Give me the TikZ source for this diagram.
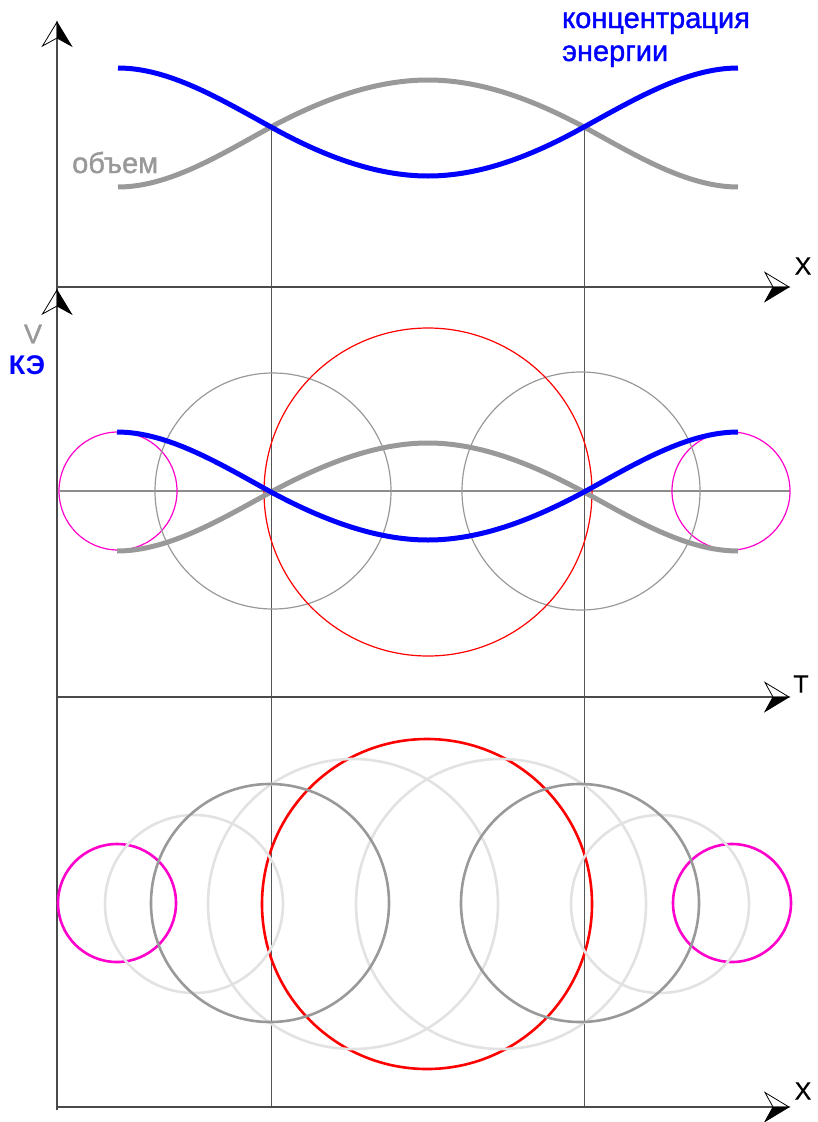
\documentclass[tikz,border=0pt]{standalone}
\usepackage{fontspec}
\setmainfont{Liberation Sans}
\newfontfamily\heavyfont[FakeBold=1.3]{Liberation Sans}
\newfontfamily\midfont[FakeBold=0.6]{Liberation Sans}
\definecolor{axisgray}{HTML}{4A4A4A}
\definecolor{guidegray}{HTML}{555555}
\definecolor{midgray}{HTML}{8C8C8C}
\definecolor{curvegray}{HTML}{999999}
\definecolor{lightring}{HTML}{E2E2E2}
\definecolor{curveblue}{HTML}{0000FF}
\definecolor{ringred}{HTML}{FF0000}
\definecolor{ringmag}{HTML}{FF00CC}
\tikzset{
  halfarrow/.pic={
    \filldraw[fill=white,draw=black,line width=0.8,line join=miter] (0,0) -- (-14.5,24) -- (0,16) -- cycle;
    \filldraw[fill=black,draw=black,line width=0.8,line join=miter] (0,0) -- (14.5,24) -- (0,16) -- cycle;
  }
}
\begin{document}
\begin{tikzpicture}[x=1pt,y=-1pt,
  axisline/.style={draw=axisgray,line width=2},
  guideline/.style={draw=guidegray,line width=1},
  midline/.style={draw=midgray,line width=1.2},
  thickcurve/.style={line width=5},
  thinring/.style={line width=1.2},
  thickring/.style={line width=2.6},
  lab/.style={inner sep=0pt,font=\midfont\fontsize{25}{28}\selectfont},
  bigtext/.style={inner sep=0pt,font=\heavyfont\fontsize{29}{33}\selectfont,anchor=base west}
]
\useasboundingbox (0,0) rectangle (818,1122);

% guide lines
\coordinate (g1t) at (271,127);
\coordinate (g1b) at (271,1107);
\coordinate (g2t) at (584,127);
\coordinate (g2b) at (584,1107);
\draw[guideline] (g1t) -- (g1b);
\draw[guideline] (g2t) -- (g2b);
\coordinate (hl) at (60,491);
\coordinate (hr) at (790,491);
\draw[midline] (hl) -- (hr);

% axes
\coordinate (o) at (57,1110);
\coordinate (ytop) at (57,30);
\draw[axisline] (o) -- (ytop);
\coordinate (a1l) at (56,287);
\coordinate (a1r) at (780,287);
\coordinate (a2l) at (56,697);
\coordinate (a2r) at (780,697);
\coordinate (a3l) at (56,1107);
\coordinate (a3r) at (780,1107);
\draw[axisline] (a1l) -- (a1r);
\draw[axisline] (a2l) -- (a2r);
\draw[axisline] (a3l) -- (a3r);
\pic at (57,22) {halfarrow};
\pic at (57,290) {halfarrow};
\pic[rotate=-90] at (789,287) {halfarrow};
\pic[rotate=-90] at (789,697) {halfarrow};
\pic[rotate=-90] at (789,1107) {halfarrow};

% top panel curves
\draw[thickcurve,draw=curvegray] (118,187) .. controls (169,187) and (220,155) .. (271,127) .. controls (323,99) and (376,80) .. (428,80) .. controls (480,80) and (532,99) .. (584,127) .. controls (635,155) and (687,187) .. (738,187);
\draw[thickcurve,draw=curveblue] (118,68) .. controls (169,68) and (220,99) .. (271,127) .. controls (323,156) and (376,176) .. (428,176) .. controls (480,176) and (532,156) .. (584,127) .. controls (635,99) and (687,68) .. (738,68);

% middle panel circles
\draw[thinring,draw=ringmag] (118,491) circle[radius=59];
\draw[thinring,draw=ringmag] (731,491) circle[radius=59];
\draw[thinring,draw=curvegray] (273,491) circle[radius=118];
\draw[thinring,draw=curvegray] (581,491) circle[radius=119];
\draw[thinring,draw=ringred] (428,492) circle[radius=164];

% middle panel curves
\draw[thickcurve,draw=curvegray] (117,551) .. controls (168,551) and (220,520) .. (271,492) .. controls (323,464) and (376,443) .. (428,443) .. controls (480,443) and (532,464) .. (584,492) .. controls (635,520) and (687,551) .. (738,551);
\draw[thickcurve,draw=curveblue] (117,432) .. controls (168,432) and (220,464) .. (271,492) .. controls (323,520) and (376,540) .. (428,540) .. controls (480,540) and (532,520) .. (584,492) .. controls (635,464) and (687,432) .. (738,432);

% bottom panel circles
\draw[thickring,draw=ringmag] (117,903) circle[radius=59];
\draw[thickring,draw=ringmag] (732,903) circle[radius=59];
\draw[thickring,draw=ringred] (427,904) circle[radius=165];
\draw[thickring,draw=lightring] (194,904) circle[radius=89];
\draw[thickring,draw=lightring] (660,904) circle[radius=89];
\draw[thickring,draw=lightring] (353,904) circle[radius=145];
\draw[thickring,draw=lightring] (501,904) circle[radius=145];
\draw[thickring,draw=curvegray] (270,903) circle[radius=119];
\draw[thickring,draw=curvegray] (580,903) circle[radius=119];

% labels
\node[lab] (X1) at (803,266) {X};
\node[lab] (T) at (801,684) {T};
\node[lab] (X2) at (803,1091) {X};
\node[lab,font=\heavyfont\fontsize{27}{28}\selectfont,text=curvegray] (V) at (33,334) {V};
\node[lab,font=\fontsize{27}{28}\selectfont\bfseries,text=curveblue] (KE) at (27,365) {КЭ};
\node[bigtext,text=curveblue] (conc) at (562,28) {концентрация};
\node[bigtext,text=curveblue] (energ) at (562,61) {энергии};
\node[bigtext,text=curvegray] (vol) at (72,173) {объем};
\end{tikzpicture}
\end{document}
